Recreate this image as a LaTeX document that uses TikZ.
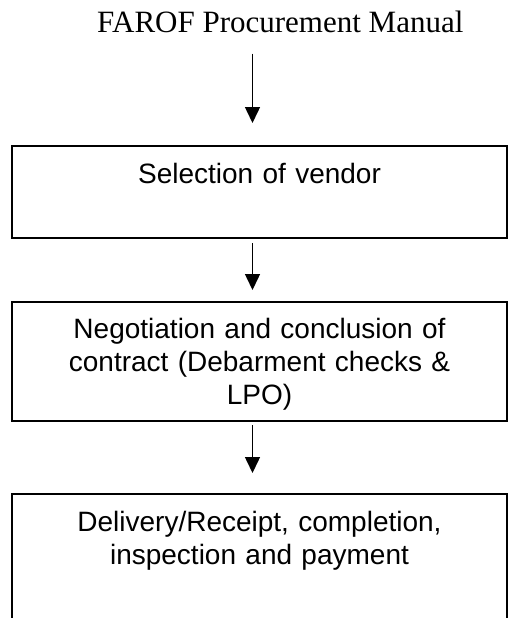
\documentclass[tikz,border=0pt]{standalone}
\usepackage{fontspec}
\setmainfont{Liberation Serif}
\newfontfamily\boxfont{Liberation Sans}
\usetikzlibrary{arrows.meta,positioning}

\begin{document}
\begin{tikzpicture}[x=1pt,y=-1pt,
    stagebox/.style={draw,line width=2pt,minimum width=495pt,inner sep=0pt},
    stagetext/.style={text width=470pt,align=center,inner sep=0pt,anchor=base,
        font=\boxfont\fontsize{28}{33}\selectfont},
    flow/.style={line width=1.5pt,-{Triangle[length=16pt,width=15pt]}}]
            \useasboundingbox (0,0) rectangle (509,618);
            \clip (0,0) rectangle (509,618);
            \coordinate (axis) at (252.5,0);

            \node[font=\fontsize{31}{36}\selectfont,anchor=base west,inner sep=0pt] (title) at (97,33) {FAROF Procurement Manual};

            % the three stages
            \node[stagebox,minimum height=92pt] (sel) at (259.5,192) {};
            \node[stagebox,minimum height=119pt] (neg) at (259.5,361.5) {};
            \node[stagebox,minimum height=160pt] (del) at (259.5,574) {};

            \node[stagetext] (seltext) at ([yshift=-38pt]sel.north) {Selection of vendor};
            \node[stagetext] (negtext) at ([yshift=-37pt]neg.north) {Negotiation and conclusion of\\contract (Debarment checks \&\\LPO)};
            \node[stagetext] (deltext) at ([yshift=-38pt]del.north) {Delivery/Receipt, completion,\\inspection and payment};

            \draw[flow,shorten <=20pt,shorten >=22pt] (title.south -| axis) -- (sel.north -| axis);
            \draw[flow,shorten <=4pt,shorten >=11pt] (sel.south -| axis) -- (neg.north -| axis);
            \draw[flow,shorten <=3pt,shorten >=20pt] (neg.south -| axis) -- (del.north -| axis);
         \end{tikzpicture}
\end{document}
